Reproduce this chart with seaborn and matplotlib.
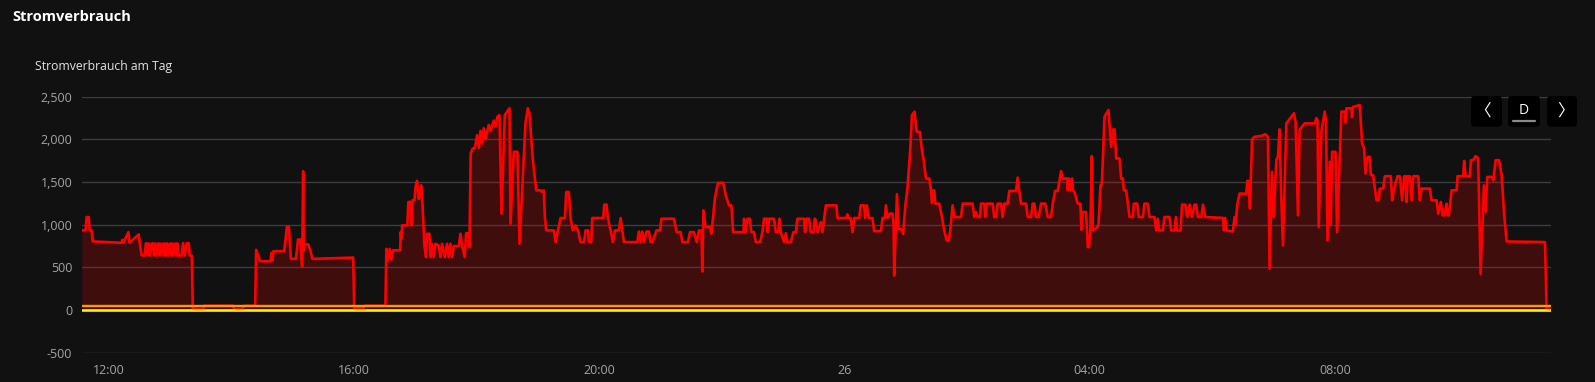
import numpy as np
import pandas as pd
import matplotlib
matplotlib.use("Agg")
import matplotlib.pyplot as plt
import matplotlib.ticker as mticker
from matplotlib.patches import FancyBboxPatch
from matplotlib.lines import Line2D
from matplotlib.transforms import IdentityTransform
import seaborn as sns

# ---------------- data (minutes after 12:00 on the 25th, watts) ----------------
BASE_TIME = "2024-01-25 12:00"

minutes = [
    -26.5, -23, -22, -20, -19, -17, -16, 12, 13, 14, 19, 20, 29, 30, 32,
    35, 36, 37, 38, 39, 40, 42, 43, 44, 45, 46, 48, 49, 50, 51, 53, 54, 55, 56, 57,
    58, 60, 61, 62, 63, 65, 66, 67, 68, 71, 72.5, 74, 76, 78, 79, 81, 82, 92, 93,
    121.5, 122.5, 130, 132, 143, 144, 148, 158, 159, 160, 161, 171.5, 174, 176, 178,
    183, 185, 187, 189, 190, 190.6, 191, 195, 197, 199, 215, 239,
    240, 249, 250, 270.5, 271.5, 273, 274.7, 276.3, 278, 285, 285.5, 286.2, 287, 292,
    293, 295, 296, 297, 299, 300, 301.5, 303, 304, 305.5, 306.5, 308.7, 310.3, 311.3,
    313.6, 314.6, 316.2, 317.8, 319.5, 322.7, 324.4, 326, 328.6, 330.9, 332.5, 334.2,
    335.8, 337.4, 342.3, 344, 345.6, 348.2, 349.5, 351.5, 352.8, 354, 356, 358, 360.3,
    362, 363.6, 365.2, 366.8, 368.5, 371.7, 373.4, 376.6, 378.3, 380, 382.2, 384.2,
    387.4, 392, 393, 396.2, 399.8, 401.8, 407.7, 410, 411.6, 414.9, 418.2, 422.4, 424,
    425.6, 426.6, 428, 435.5, 437.1, 439.4, 442, 446.2, 447.6, 450.1, 451.8, 454,
    456.7, 459, 461.6, 465, 466.5, 468.8, 469.7, 472, 473, 483.8, 484.8, 487, 488.4,
    491, 493.3, 495.2, 499.1, 500.8, 502.4, 504, 517.1, 518.7, 520.4, 522, 523.6,
    526.2, 528.5, 530.2, 531.8, 536, 539.4, 540.7, 553, 555.7, 559.6, 561.2, 566.7,
    568.7, 572.6, 575.3, 577.5, 579.9, 580.8, 581.8, 584.1, 588.3, 589.7, 593.2, 596.1,
    601.3, 603.7, 606.9, 609.3, 610.9, 621, 621.6, 623, 625, 627.2, 628.8, 631.4,
    633.1, 637.3, 639.6, 641.2, 643.9, 644.8, 646.1, 651, 652.7, 655, 656.3, 657.6,
    660.9, 662.5, 664.1, 667.4, 670, 672.3, 673.9, 680.4, 681.4, 682.8, 685.3, 687,
    689.6, 690.9,
    691.9, 693.5, 696.8, 698.4, 700, 701.7, 712.1, 713.1, 721.9, 722.8, 723.8, 726,
    727.8, 729.4, 734.3, 735.9, 739.2, 740.2, 741.9, 743.5, 747.4, 749, 755.6, 757.2,
    759.5, 760.5, 762.1, 764.4, 767, 768, 768.6, 771.3, 772.9, 775.2, 777.4, 779.4,
    781.7, 784.3, 786, 788.6, 790.6, 793.8, 795.8, 797.4, 799.7, 803, 804.6, 805.6,
    806.9, 807.8, 808.8, 812.7, 815.4, 817.6, 820, 822, 823.5, 825.8, 827.5, 834,
    835.7, 845.4, 847, 848.7, 850.3, 852.6, 853.6, 856.8, 857.8, 859.2, 865, 866.6,
    868.3, 869.9, 873.2, 874.8, 876.4, 879.7, 881.3, 887.9, 889.5, 891.1, 892.8, 897.7,
    899.3, 902.6, 904.2, 905.8, 907.5, 910.1, 912.4, 916.6, 918.9, 922.2, 923.8, 926.1,
    928.7, 932, 933.6,
    937.9, 938.5, 939.8, 941.1, 942.8, 943.7, 945, 948.3, 950.9, 951.9, 953.2, 956.5,
    958.1, 959.4, 960.7, 962.1, 963.1, 967.3, 968.6, 970.6, 971.9, 974.5, 978.4, 981,
    983, 984.3, 986, 989.2, 990.8, 992.5, 993.4, 995.7, 997.3, 999, 1002.3, 1003.2,
    1006.5, 1008.1, 1012, 1013.6, 1016.9, 1018.5, 1023.4, 1025.1, 1026.7, 1028, 1031.5,
    1033.2, 1038.1, 1039.8, 1043, 1044.4, 1045.7, 1049, 1050.4, 1053.6, 1055.5, 1057.8,
    1060.1, 1062.7, 1064.3, 1066, 1069.2, 1070.9, 1073.1, 1090.4, 1091.4, 1092.7, 1094,
    1100.2, 1101.8, 1102.7, 1104.5, 1106.7, 1113.3, 1114.3, 1115.5, 1116.9, 1118.9,
    1121.4, 1128, 1131.9, 1134.5, 1136.1, 1138.4, 1140, 1142.7, 1144.3, 1145.9, 1147.6,
    1149.2, 1152.5, 1160, 1161.6, 1163.9, 1165.5, 1167.9, 1170.4, 1177,
    1180.3, 1182, 1183, 1184.2, 1186.9, 1190.1, 1191.4, 1192.8, 1195, 1196, 1197.3,
    1200.6, 1202.2, 1206.4, 1209.7, 1210.3, 1211.3, 1216.2, 1216.8, 1217.8, 1224.4,
    1226.7, 1228.6, 1230, 1232, 1234.2, 1235.2, 1237.5, 1239.2, 1240.8, 1243, 1244,
    1247.3, 1248.9, 1254.8, 1256.1, 1258, 1261.3, 1263.6, 1265.9, 1267.9, 1269.2,
    1270.2, 1271.2, 1273.5, 1275.1, 1276.7, 1281.6, 1283.2, 1284.9, 1293, 1294.7,
    1299.6, 1301.2, 1303.8, 1305.5, 1307, 1309.4, 1310.3, 1311.6, 1314.3, 1319.2,
    1320.1, 1325.6, 1326.6, 1328, 1332.2, 1333.2, 1335.4, 1337.8, 1340.3, 1342.7,
    1345.9, 1347.6, 1349.2, 1353.5, 1355.1, 1357.4, 1360.7, 1363.3, 1365.8, 1368.2,
    1405.7, 1407.3, 1410.6,
]

power_w = [
    933, 933, 1090, 1090, 933, 933, 804, 788, 823, 788, 913, 788, 886, 788, 639,
    639, 780, 780, 639, 780, 639, 780, 780, 639, 780, 639, 780, 639, 780, 639, 780, 639, 780, 639, 780,
    639, 780, 639, 780, 639, 780, 639, 780, 639, 639, 784, 639, 784, 784, 639, 639, 15, 10, 50,
    50, 10, 10, 50, 50, 705, 572, 572, 670, 580, 690, 690, 972, 972, 600,
    600, 827, 827, 510, 1627, 700, 768, 768, 705, 600, 605, 615,
    20, 15, 50, 50, 717, 580, 717, 590, 700, 700, 913, 840, 992, 992,
    1266, 1266, 992, 1286, 1286, 1443, 1513, 1305, 1305, 1462, 1325, 757, 620, 894,
    894, 620, 776, 620, 776, 757, 620, 776, 620, 776, 620, 776,
    620, 749, 749, 894, 749, 620, 900, 900, 737, 1835, 1893, 1893, 2050,
    1900, 2100, 1950, 2130, 2000, 2170, 2100, 2220, 2150, 2260, 2285, 1129,
    2285, 2364, 1011, 1854, 1854, 776, 2200, 2364, 2300, 1756, 1403, 1403, 1384,
    1403, 1090, 933, 933, 796, 933, 1078, 1078, 1384, 1384, 1078, 933,
    992, 933, 796, 796, 933, 933, 796, 796, 1078, 1078, 1235, 1235, 1078,
    933, 796, 933, 933, 1078, 933, 796, 796, 920, 796, 920, 796,
    920, 920, 796, 796, 933, 933, 1070, 1070, 913, 913, 796, 796,
    913, 913, 796, 933, 930, 451, 1168, 972, 972, 894, 1325, 1490,
    1490, 1345, 1227, 1227, 913, 913, 1070, 913, 1070, 1070, 913, 913,
    796, 796, 913, 1070, 1070, 913, 1070, 1070, 913, 913, 1070, 913,
    796, 900, 796, 796, 913, 913, 1070, 1070, 913, 1070, 1070, 913,
    913, 1070,
    1050, 913, 1030, 913, 1070, 1227, 1227, 1078, 1078, 1120, 1078, 1078,
    913, 1078, 1078, 1227, 1227, 1078, 1227, 1078, 1078, 925, 925, 1078,
    1078, 1227, 1078, 1130, 1130, 1000, 404, 1356, 953, 953, 894, 1207,
    1443, 1874, 2285, 2325, 2089, 2089, 1874, 1764, 1541, 1541, 1403, 1254,
    1403, 1403, 1247, 1247, 1090, 933, 815, 815, 933, 1227, 1090, 1090,
    1247, 1247, 1090, 1150, 1090, 1090, 1247, 1247, 1090, 1247, 1247, 1090,
    1090, 1247, 1247, 1090, 1247, 1247, 1396, 1396, 1552, 1396, 1247, 1247,
    1090, 1090, 1247, 1247, 1090, 1090, 1247, 1247, 1090, 1090, 1247, 1396,
    1396, 1627, 1541,
    1541, 1403, 1541, 1403, 1541, 1403, 1384, 1247, 1247, 941, 1150, 1150,
    737, 737, 960, 1803, 933, 970, 1000, 1462, 1470, 2266, 2344, 1913,
    2117, 2117, 1776, 1776, 1541, 1541, 1403, 1403, 1247, 1090, 1090, 1247,
    1247, 1090, 1090, 1247, 1247, 1090, 1090, 933, 1070, 933, 933,
    1090, 1090, 933, 933, 1090, 933, 933, 1235, 1235, 1090, 1235,
    1090, 1235, 1235, 1090, 1090, 1235, 1090, 1080, 933, 1080, 933,
    920, 1090, 1000, 1235, 1364, 1364, 1513, 1513, 1190, 1999,
    2030, 2040, 2060, 2030, 482, 1619, 1090, 1756, 1800, 2117, 1300,
    757, 2187, 2305, 2200, 1109, 2109, 2150, 2187, 2187,
    2187, 2250, 2230, 972, 2100, 2325, 2200, 815, 1737, 1000, 1854,
    1854, 913, 2325, 2325, 2200, 2364, 2364, 2260, 2380, 2403,
    1952, 1900, 1599, 1795, 1795, 1580, 1580, 1423, 1286, 1286, 1423,
    1423, 1568, 1568, 1286, 1423, 1568, 1568, 1286, 1568, 1568,
    1266, 1568, 1568, 1286, 1568, 1568, 1286, 1423, 1423, 1286,
    1286, 1129, 1266, 1109, 1109, 1247, 1109, 1109, 1403, 1403,
    1568, 1568, 1748, 1568, 1568, 1756, 1756, 1803, 1780, 423,
    1462, 1150, 1560, 1560, 1520, 1756, 1756, 1580, 1109, 804,
    796, 12, 12,
]

base_minutes = [-26.5, 1411.6]
orange_w = [46, 46]
yellow_w = [-3, -3]

x_tick_minutes = [0, 240, 480, 720, 960, 1200]
x_tick_labels = ["12:00", "16:00", "20:00", "26", "04:00", "08:00"]
y_ticks = [-500, 0, 500, 1000, 1500, 2000, 2500]

TITLE = "Stromverbrauch"
SUBTITLE = "Stromverbrauch am Tag"

# ---------------- styling ----------------
BG = "#111111"
GRID = "#3d3d3f"
TICKC = "#a4a4aa"
FONT = ["Open Sans", "DejaVu Sans"]

sns.set_theme(style="dark", rc={
    "axes.facecolor": BG, "figure.facecolor": BG, "savefig.facecolor": BG,
})
plt.rcParams["font.family"] = FONT

base = pd.Timestamp(BASE_TIME)


def to_time(m):
    return base + pd.to_timedelta(np.asarray(m, dtype=float), unit="m")


df = pd.DataFrame({"Zeit": to_time(minutes), "Leistung": power_w})
df_o = pd.DataFrame({"Zeit": to_time(base_minutes), "Leistung": orange_w})
df_y = pd.DataFrame({"Zeit": to_time(base_minutes), "Leistung": yellow_w})

W, H = 1595, 382
fig = plt.figure(figsize=(W / 100, H / 100), dpi=100, facecolor=BG)
ax_l, ax_r, ax_t, ax_b = 82, 1551, 96.7, 352.7
ax = fig.add_axes([ax_l / W, 1 - ax_b / H, (ax_r - ax_l) / W, (ax_b - ax_t) / H])
ax.set_facecolor(BG)

ax.fill_between(df["Zeit"].values, df["Leistung"].values, 0,
                color=(1, 0, 0, 0.2), lw=0, zorder=2)
sns.lineplot(data=df, x="Zeit", y="Leistung", ax=ax, color="#ff0000", lw=1.9,
             estimator=None, solid_joinstyle="round", zorder=3)
sns.lineplot(data=df_o, x="Zeit", y="Leistung", ax=ax, color="#ff9800", lw=1.7,
             estimator=None, zorder=4)
sns.lineplot(data=df_y, x="Zeit", y="Leistung", ax=ax, color="#ffee00", lw=1.9,
             estimator=None, zorder=5)

ax.set_xlim(to_time([base_minutes[0]])[0], to_time([base_minutes[1]])[0])
ax.set_ylim(-500, 2500)
ax.set_xlabel("")
ax.set_ylabel("")

ax.set_yticks(y_ticks)
ax.yaxis.set_major_formatter(mticker.FuncFormatter(lambda v, p: f"{int(v):,}"))
ax.set_xticks(to_time(x_tick_minutes))
ax.set_xticklabels(x_tick_labels)
for lab in ax.get_xticklabels():
    if lab.get_text() == "26":
        lab.set_fontweight("bold")

ax.yaxis.grid(True, color=GRID, lw=1.0, zorder=0)
ax.xaxis.grid(False)
for s in ax.spines.values():
    s.set_visible(False)
ax.spines["bottom"].set_position(("data", 0))

ax.tick_params(axis="y", length=0, pad=7, labelsize=9, labelcolor=TICKC)
ax.tick_params(axis="x", length=5, width=1, color="#6a6a6a", direction="out",
               pad=34, labelsize=9, labelcolor=TICKC)

# ---------------- texts ----------------
fig.text(12.5 / W, 1 - 17 / H, TITLE, color="white", fontsize=10.5,
         fontweight="bold", ha="left", va="center")
fig.text(35 / W, 1 - 66.5 / H, SUBTITLE, color="#e2e2e2", fontsize=8.8,
         ha="left", va="center")

# ---------------- navigation buttons ----------------
ident = IdentityTransform()
boxes = [(1471, 1502, "〈"), (1508, 1540, "D"), (1547, 1577, "〉")]
for x0, x1, label in boxes:
    y0 = H - 126.7
    fig.add_artist(FancyBboxPatch((x0, y0), x1 - x0, 30.7,
                                  boxstyle="round,pad=0,rounding_size=4",
                                  transform=ident, facecolor="#000000",
                                  edgecolor="none"))
    cx = (x0 + x1) / 2
    if label == "D":
        fig.text(cx, H - 110.5, label, transform=ident, color="white",
                 fontsize=10, ha="center", va="center")
        fig.add_artist(Line2D([1513, 1535], [H - 120.7, H - 120.7], transform=ident,
                              color="#8a8a8a", lw=1.6))
    else:
        off = -3.5 if label == "〈" else 3.5
        fig.text(cx + off, H - 111.5, label, transform=ident, color="white",
                 fontsize=12, ha="center", va="center",
                 family=["Noto Sans CJK SC", "DejaVu Sans"])

fig.savefig("out.png", dpi=100, facecolor=BG)
